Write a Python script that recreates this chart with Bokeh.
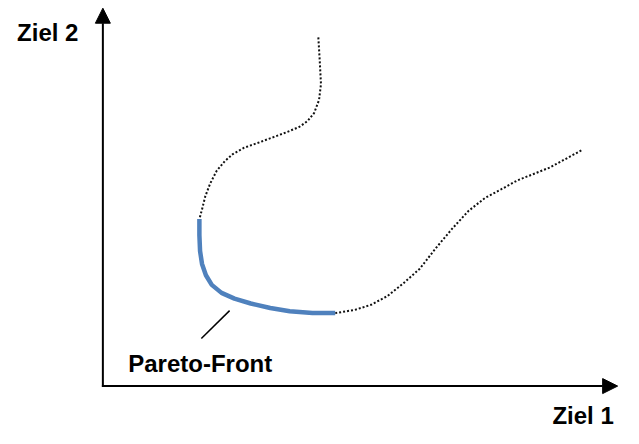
from bokeh.plotting import figure
from bokeh.models import Range1d, Arrow, NormalHead, ColumnDataSource
from bokeh.core.properties import value
from bokeh.embed import file_html
from bokeh.resources import INLINE

# ---- data (objective space, arbitrary units) ----
upper_z1 = [221.0, 222.3, 223.7, 221.7, 216.7, 210.0, 201.7, 188.3, 175.0, 161.7,
            145.0, 133.3, 125.0, 116.7, 110.0, 105.0, 101.7, 99.0]
upper_z2 = [361.7, 340.0, 313.3, 296.7, 283.3, 275.0, 269.0, 263.3, 258.3, 253.3,
            247.3, 240.7, 233.3, 223.3, 210.0, 196.7, 183.3, 173.3]

front_z1 = [99.0, 99.0, 99.7, 101.7, 105.7, 111.7, 121.7, 135.0, 151.7, 171.7,
            191.7, 215.0, 238.3]
front_z2 = [173.3, 156.7, 140.0, 126.7, 115.0, 105.0, 96.7, 90.7, 85.7, 81.0,
            77.7, 75.7, 75.7]

lower_z1 = [238.3, 258.3, 275.0, 291.7, 308.3, 325.0, 341.7, 358.3, 375.0, 391.7,
            408.3, 425.0, 458.3, 491.7]
lower_z2 = [75.7, 79.0, 84.3, 93.3, 106.7, 121.7, 143.3, 163.3, 181.7, 195.0,
            204.0, 213.3, 226.7, 245.0]

pointer_z1 = [130.0, 101.0]
pointer_z2 = [78.3, 49.3]

label_text = ["Ziel 2", "Pareto-Front", "Ziel 1"]
label_z1 = [-88.0, 26.0, 524.0]
label_z2 = [367.0, 23.0, -30.0]
label_align = ["left", "left", "right"]

axis_x_end = 528.0
axis_y_end = 392.0

# ---- figure ----
p = figure(width=623, height=428, output_backend="svg", toolbar_location=None,
           x_range=Range1d(-105, 534), y_range=Range1d(-44, 400),
           x_axis_type=None, y_axis_type=None, min_border=0,
           outline_line_color=None, background_fill_color="white",
           border_fill_color="white")
p.xgrid.visible = False
p.ygrid.visible = False

# axes with arrows
p.add_layout(Arrow(x_start=0, y_start=-1, x_end=0, y_end=axis_y_end,
                   line_width=2, line_color="black",
                   end=NormalHead(size=15, fill_color="black", line_color="black", line_width=1)))
p.add_layout(Arrow(x_start=-1, y_start=0, x_end=axis_x_end, y_end=0,
                   line_width=2, line_color="black",
                   end=NormalHead(size=15, fill_color="black", line_color="black", line_width=1)))

# dotted feasible boundary
p.line(upper_z1, upper_z2, line_color="#111111", line_width=2, line_dash="2 2")
p.line(lower_z1, lower_z2, line_color="#111111", line_width=2, line_dash="2 2")

# Pareto front
p.line(front_z1, front_z2, line_color="#4F81BD", line_width=4.5, line_cap="butt")

# pointer
p.line(pointer_z1, pointer_z2, line_color="black", line_width=1.5)

# labels
src = ColumnDataSource(dict(x=label_z1, y=label_z2, t=label_text, a=label_align))
p.text(x="x", y="y", text="t", source=src, text_align="a",
       text_baseline="alphabetic", text_font=value("Liberation Sans"),
       text_font_style="bold", text_font_size="24px", text_color="black")

open("out.html", "w").write(file_html(p, INLINE))
